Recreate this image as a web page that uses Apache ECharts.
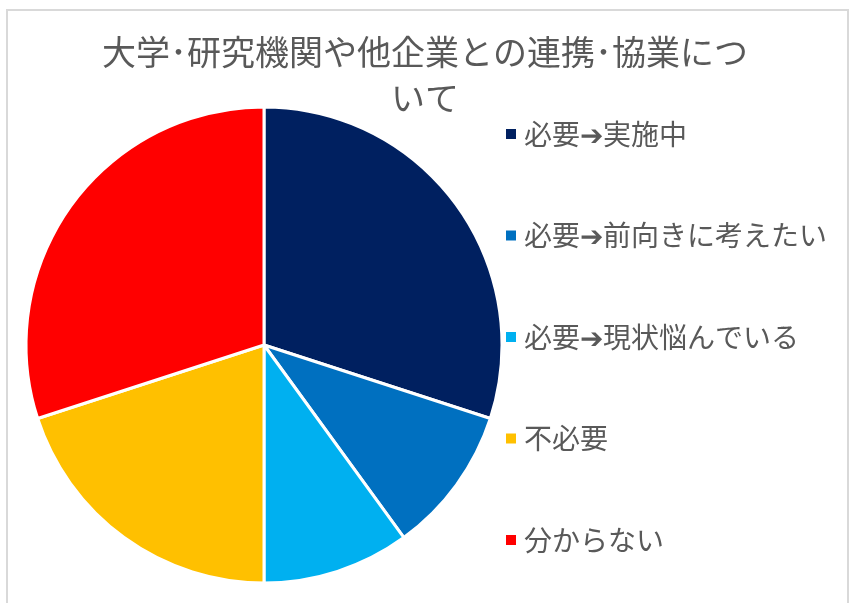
<!DOCTYPE html>
<html>
<head>
<meta charset="utf-8">
<script src="https://cdn.jsdelivr.net/npm/echarts@6/dist/echarts.min.js"></script>
<style>
  html, body { margin: 0; padding: 0; background: #fff; }
  #chart { width: 857px; height: 603px; }
</style>
</head>
<body>
<div id="chart"></div>
<script>
const categories = ['必要➔実施中', '必要➔前向きに考えたい', '必要➔現状悩んでいる', '不必要', '分からない']
const values = [3, 1, 1, 2, 3]
const colors = ['#002060', '#0070C0', '#00B0F0', '#FFC000', '#FF0000']

const font = '"Noto Sans CJK JP", "Noto Sans", sans-serif'
const chart = echarts.init(document.getElementById('chart'))

chart.setOption({
  animation: false,
  color: colors,
  graphic: [
    {
      type: 'rect',
      shape: { x: 7, y: 10, width: 841, height: 620 },
      style: { fill: 'none', stroke: '#d9d9d9', lineWidth: 2 },
      silent: true,
    },
  ],
  title: {
    text: '大学･研究機関や他企業との連携･協業につ\nいて',
    left: 420,
    top: 24,
    textAlign: 'center',
    textStyle: {
      fontFamily: font,
      fontSize: 34,
      fontWeight: 'normal',
      color: '#595959',
      lineHeight: 46,
    },
  },
  legend: {
    orient: 'vertical',
    left: 499,
    top: 114,
    icon: 'rect',
    itemWidth: 12,
    itemHeight: 12,
    itemGap: 71.5,
    textStyle: {
      fontFamily: font,
      fontSize: 28,
      color: '#595959',
      lineHeight: 30,
      padding: [0, 0, 0, 2],
    },
    data: categories,
  },
  series: [
    {
      type: 'pie',
      center: [264, 345],
      radius: 238,
      startAngle: 90,
      clockwise: true,
      label: { show: false },
      labelLine: { show: false },
      itemStyle: { borderColor: '#fff', borderWidth: 3 },
      data: categories.map((name, i) => ({ name, value: values[i] })),
    },
  ],
})
</script>
</body>
</html>
